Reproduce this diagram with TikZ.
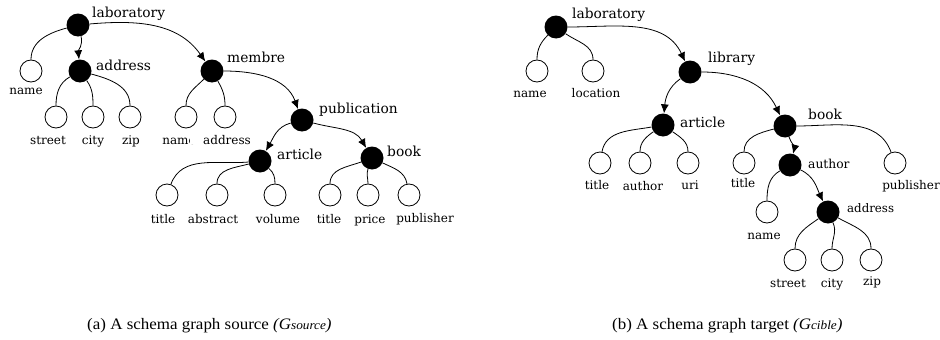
\documentclass[tikz,border=0pt]{standalone}
\usepackage{fontspec}
\setmainfont{DejaVu Serif}
\newfontfamily\capfont[FakeStretch=1.06]{Liberation Serif}
\usetikzlibrary{arrows.meta}

\tikzset{
  elem/.style={circle, fill=black, minimum size=23pt, inner sep=0pt},
  leaf/.style={circle, draw=black, line width=0.8pt, fill=white, minimum size=22pt, inner sep=0pt},
  elab/.style={anchor=base west, inner sep=0pt, font=\fontsize{13.8}{14}\selectfont},
  slab/.style={anchor=base west, inner sep=0pt, font=\fontsize{12.3}{13}\selectfont},
  llab/.style={anchor=base, inner sep=0pt, font=\fontsize{12}{12}\selectfont},
  edge/.style={line width=0.8pt},
  link/.style={line width=0.8pt, -{Latex[length=9pt,width=8pt]}},
  caption/.style={anchor=base west, inner sep=0pt, font=\capfont\fontsize{16}{16}\selectfont},
}
\newcommand{\gsub}[1]{{\itshape (G{\fontsize{12.5}{12.5}\selectfont #1})}}

\begin{document}
\begin{tikzpicture}[x=1pt,y=1pt]
\useasboundingbox (0,0) rectangle (940,-340);

% ---------- source schema ----------
\node[elem] (L) at (78,-25) {};
\node[leaf] (Lname) at (31,-71) {};
\node[elem] (Laddr) at (80,-71) {};
\node[leaf] (Lstreet) at (56,-117) {};
\node[leaf] (Lcity) at (93,-117) {};
\node[leaf] (Lzip) at (130,-117) {};
\node[elem] (Lmem) at (212,-71) {};
\node[leaf] (Lmname) at (186,-117) {};
\node[leaf] (Lmaddr) at (225,-117) {};
\node[elem] (Lpub) at (302,-120) {};
\node[elem] (Lart) at (260,-161) {};
\node[elem] (Lbook) at (372,-158) {};
\node[leaf] (Ltitle) at (167,-195) {};
\node[leaf] (Labs) at (217,-195) {};
\node[leaf] (Lvol) at (275,-195) {};
\node[leaf] (Lbtitle) at (330,-195) {};
\node[leaf] (Lprice) at (368,-195) {};
\node[leaf] (Lpubl) at (409,-195) {};

\node[elab] (tL) at (92,-17) {laboratory};
\node[elab] (tLaddr) at (96,-70.5) {address};
\node[elab] (tLmem) at (227,-62.5) {membre};
\node[elab] (tLpub) at (319,-113) {publication};
\node[elab] (tLart) at (277,-159) {article};
\node[elab] (tLbook) at (387,-156) {book};

\node[llab] (tLname) at (26,-94) {name};
\node[llab] (tLstreet) at (48,-144) {street};
\node[llab] (tLcity) at (93,-144) {city};
\node[llab] (tLzip) at (131,-144) {zip};
\node[llab] (tLmname) at (179,-144) {name};
\node[llab, anchor=base west, fill=white] (tLmaddr) at (190,-144) {\hspace*{13pt}address};
\node[llab] (tLtitle) at (163,-223) {title};
\node[llab] (tLabs) at (213,-223) {abstract};
\node[llab] (tLvol) at (278,-223) {volume};
\node[llab] (tLbtitle) at (329,-223) {title};
\node[llab] (tLprice) at (370,-223) {price};
\node[llab] (tLpubl) at (425,-222) {publisher};

\draw[edge] (L) to[out=195, in=90] (Lname);
\draw[link] (L) to[out=-75, in=95] (Laddr);
\draw[link] (L) to[out=5, in=125] (Lmem);
\draw[edge] (Laddr) to[out=210, in=90] (Lstreet);
\draw[edge] (Laddr) to[out=-55, in=90] (Lcity);
\draw[edge] (Laddr) to[out=-15, in=90] (Lzip);
\draw[edge] (Lmem) to[out=225, in=90] (Lmname);
\draw[edge] (Lmem) to[out=-60, in=90] (Lmaddr);
\draw[link] (Lmem) to[out=0, in=110] (Lpub);
\draw[link] (Lpub) to[out=195, in=60] (Lart);
\draw[link] (Lpub) to[out=-15, in=120] (Lbook);
\draw[edge] (Lart) to[out=185, in=70] (Ltitle);
\draw[edge] (Lart) to[out=195, in=90] (Labs);
\draw[edge] (Lart) to[out=-40, in=90] (Lvol);
\draw[edge] (Lbook) to[out=200, in=90] (Lbtitle);
\draw[edge] (Lbook) to[out=-110, in=90] (Lprice);
\draw[edge] (Lbook) to[out=-25, in=100] (Lpubl);

% ---------- target schema ----------
\node[elem] (R) at (556,-27) {};
\node[leaf] (Rname) at (537,-71) {};
\node[leaf] (Rloc) at (593,-71) {};
\node[elem] (Rlib) at (690,-72) {};
\node[elem] (Rart) at (663,-125) {};
\node[elem] (Rbook) at (785,-126) {};
\node[leaf] (Rtitle) at (600,-163) {};
\node[leaf] (Rauth) at (640,-163) {};
\node[leaf] (Ruri) at (688,-163) {};
\node[leaf] (Rbtitle) at (744,-163) {};
\node[elem] (Rauthor) at (790,-165) {};
\node[leaf] (Rpubl) at (895,-163) {};
\node[leaf] (Raname) at (767,-212) {};
\node[elem] (Raddr) at (828,-212) {};
\node[leaf] (Rstreet) at (795,-260) {};
\node[leaf] (Rcity) at (832,-260) {};
\node[leaf] (Rzip) at (871,-260) {};

\node[elab] (tR) at (572,-19) {laboratory};
\node[elab] (tRlib) at (708,-62) {library};
\node[elab] (tRart) at (680,-127) {article};
\node[elab] (tRbook) at (808,-119) {book};
\node[slab] (tRauthor) at (808,-168) {author};
\node[slab, font=\fontsize{11.8}{12}\selectfont] (tRaddr) at (847,-212) {address};

\node[llab] (tRname) at (530,-97) {name};
\node[llab] (tRloc) at (596,-97) {location};
\node[llab] (tRtitle) at (597,-189) {title};
\node[llab] (tRauth) at (643,-190) {author};
\node[llab] (tRuri) at (690,-189) {uri};
\node[llab] (tRbtitle) at (743,-187) {title};
\node[llab] (tRpubl) at (911,-189) {publisher};
\node[llab] (tRaname) at (764,-239) {name};
\node[llab] (tRstreet) at (788,-287) {street};
\node[llab] (tRcity) at (832,-287) {city};
\node[llab] (tRzip) at (872,-285) {zip};

\draw[edge] (R) to[out=225, in=90] (Rname);
\draw[edge] (R) to[out=-35, in=90] (Rloc);
\draw[link] (R) to[out=0, in=115] (Rlib);
\draw[link] (Rlib) to[out=215, in=85] (Rart);
\draw[link] (Rlib) to[out=0, in=115] (Rbook);
\draw[edge] (Rart) to[out=190, in=80] (Rtitle);
\draw[edge] (Rart) to[out=215, in=90] (Rauth);
\draw[edge] (Rart) to[out=-35, in=90] (Ruri);
\draw[edge] (Rbook) to[out=195, in=90] (Rbtitle);
\draw[link] (Rbook) to[out=-70, in=75] (Rauthor);
\draw[edge] (Rbook) to[out=0, in=110] (Rpubl);
\draw[edge] (Rauthor) to[out=210, in=90] (Raname);
\draw[link] (Rauthor) to[out=-25, in=115] (Raddr);
\draw[edge] (Raddr) to[out=215, in=90] (Rstreet);
\draw[edge] (Raddr) to[out=-65, in=90] (Rcity);
\draw[edge] (Raddr) to[out=-30, in=90] (Rzip);

% ---------- captions ----------
\node[caption] (capA) at (87,-329) {(a) A schema graph source \gsub{source}};
\node[caption] (capB) at (612,-329) {(b) A schema graph target \gsub{cible}};
\end{tikzpicture}
\end{document}
